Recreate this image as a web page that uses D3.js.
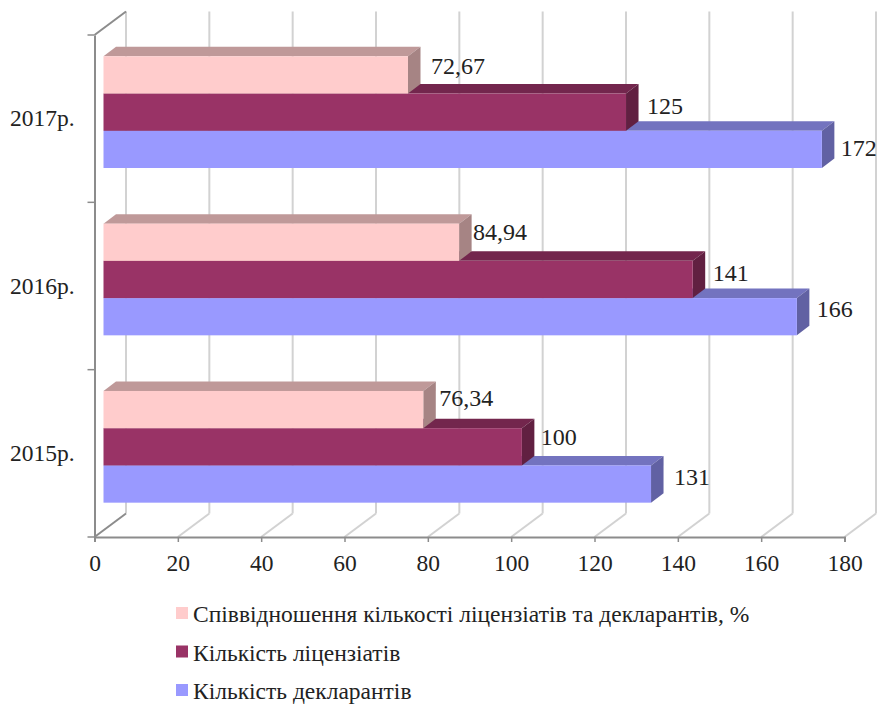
<!DOCTYPE html>
<html>
<head>
<meta charset="utf-8">
<title>Chart</title>
<script src="https://cdn.jsdelivr.net/npm/d3@7/dist/d3.min.js"></script>
<style>
  html, body { margin: 0; padding: 0; background: #fff; }
  svg { display: block; }
  text { font-family: "Liberation Serif", serif; fill: #222; }
</style>
</head>
<body>
<div class="chart"></div>
<script>
// data, top group first
var categories = ["2017р.", "2016р.", "2015р."];
var seriesNames = [
  "Співвідношення кількості ліцензіатів та декларантів, %",
  "Кількість ліцензіатів",
  "Кількість декларантів"
];
var ratioValues = [72.67, 84.94, 76.34];
var licenseeValues = [125, 141, 100];
var declarantValues = [172, 166, 131];
var ratioLabels = ["72,67", "84,94", "76,34"];
var licenseeLabels = ["125", "141", "100"];
var declarantLabels = ["172", "166", "131"];
var xTicks = [0, 20, 40, 60, 80, 100, 120, 140, 160, 180];

// hand placed label nudges, the original chart has them moved around a bit
var ratioNudge = [[4, -5], [-5, -7], [-3, -8]];
var licenseeNudge = [[2, -3], [1, -3], [0, -6]];
var declarantNudge = [[0, 2], [1, -4], [4, -4]];

var svgWidth = 878;
var svgHeight = 704;

var svg = d3.select(".chart")
  .append("svg")
  .attr("width", svgWidth)
  .attr("height", svgHeight);

var series = [
  { name: seriesNames[0], values: ratioValues, labels: ratioLabels, nudge: ratioNudge, front: "#ffcccc", top: "#bf9999", side: "#a68484" },
  { name: seriesNames[1], values: licenseeValues, labels: licenseeLabels, nudge: licenseeNudge, front: "#993366", top: "#73264d", side: "#612041" },
  { name: seriesNames[2], values: declarantValues, labels: declarantLabels, nudge: declarantNudge, front: "#9999ff", top: "#7373bf", side: "#6161a3" }
];

// scales
var xScale = d3.scaleLinear().domain([0, 180]).range([94.5, 844.5]);
var yScale = d3.scaleBand().domain(categories).range([35, 537]);
var barScale = d3.scaleBand().domain(d3.range(series.length)).range([21.3, 133]);

// depth of the fake 3d box
var wallDx = 31.5, wallDy = -23.5;
var barDx = 12.5, barDy = -9.5;
var barLeft = xScale(0) + 9;
var barShift = 10.7;
var floorY = yScale.range()[1];
var topY = yScale.range()[0];

// grid lines on the back wall and floor
var grid = svg.append("g");
grid.selectAll(".wall")
  .data(xTicks)
  .enter()
  .append("line")
  .attr("x1", d => xScale(d) + wallDx)
  .attr("x2", d => xScale(d) + wallDx)
  .attr("y1", topY + wallDy)
  .attr("y2", floorY + wallDy)
  .attr("stroke", "#d2d2d2")
  .attr("stroke-width", 2);
grid.selectAll(".floor")
  .data(xTicks)
  .enter()
  .append("line")
  .attr("x1", d => xScale(d))
  .attr("x2", d => xScale(d) + wallDx)
  .attr("y1", floorY)
  .attr("y2", floorY + wallDy)
  .attr("stroke", d => d == 0 ? "#8c8c8c" : "#d2d2d2")
  .attr("stroke-width", 2);

// top edge of the side wall
svg.append("line")
  .attr("x1", xScale(0))
  .attr("x2", xScale(0) + wallDx)
  .attr("y1", topY)
  .attr("y2", topY + wallDy)
  .attr("stroke", "#8c8c8c")
  .attr("stroke-width", 2);

// axes
var xAxis = d3.axisBottom(xScale).tickValues(xTicks).tickSize(5).tickPadding(12);
var yAxis = d3.axisLeft(yScale).tickSize(0).tickPadding(20);

var xGroup = svg.append("g")
  .attr("transform", `translate(0, ${floorY})`)
  .call(xAxis);
var yGroup = svg.append("g")
  .attr("transform", `translate(${xScale(0)}, 0)`)
  .call(yAxis);

// band axis puts ticks on the centres, the marks belong on the band edges
yGroup.selectAll(".edge")
  .data(d3.range(categories.length + 1))
  .enter()
  .append("line")
  .attr("x1", -7)
  .attr("x2", 0)
  .attr("y1", d => topY + d * yScale.step())
  .attr("y2", d => topY + d * yScale.step())
  .attr("stroke", "#8c8c8c")
  .attr("stroke-width", 1.5);

[xGroup, yGroup].forEach(function(g) {
  g.selectAll(".domain").attr("stroke", "#8c8c8c").attr("stroke-width", 2);
  g.selectAll(".tick line").attr("stroke", "#8c8c8c").attr("stroke-width", 1.5);
  g.selectAll("text")
    .style("font-family", '"Liberation Serif", serif')
    .style("font-size", "23.5px")
    .style("fill", "#222");
});

// bars, bottom one of each group first so the upper front covers the top face
categories.forEach(function(cat, c) {
  var group = svg.append("g");
  d3.range(series.length - 1, -1, -1).forEach(function(s) {
    var d = series[s];
    var y0 = yScale(cat) + barScale(s);
    var y1 = y0 + barScale.bandwidth();
    var x1 = xScale(d.values[c]) + barShift;

    group.append("path")
      .attr("d", d3.line()([[barLeft, y0], [barLeft + barDx, y0 + barDy], [x1 + barDx, y0 + barDy], [x1, y0]]))
      .attr("fill", d.top);
    group.append("path")
      .attr("d", d3.line()([[x1, y0], [x1 + barDx, y0 + barDy], [x1 + barDx, y1 + barDy], [x1, y1]]))
      .attr("fill", d.side);
    group.append("rect")
      .attr("x", barLeft)
      .attr("y", y0)
      .attr("width", x1 - barLeft)
      .attr("height", y1 - y0)
      .attr("fill", d.front);
  });
});

// value labels
categories.forEach(function(cat, c) {
  series.forEach(function(d, s) {
    svg.append("text")
      .attr("x", xScale(d.values[c]) + barShift + 19 + d.nudge[c][0])
      .attr("y", yScale(cat) + barScale(s) + barScale.bandwidth() / 2 - 1 + d.nudge[c][1])
      .attr("dominant-baseline", "middle")
      .attr("font-size", "24px")
      .text(d.labels[c]);
  });
});

// legend
var legendY = d3.scalePoint().domain(seriesNames).range([613, 690]);
var legend = svg.selectAll(".legend")
  .data(series)
  .enter()
  .append("g")
  .attr("transform", d => `translate(176, ${legendY(d.name)})`);
legend.append("rect")
  .attr("y", -6)
  .attr("width", 12)
  .attr("height", 12)
  .attr("fill", d => d.front);
legend.append("text")
  .attr("x", 17)
  .attr("y", 9)
  .attr("font-size", "23.5px")
  .text(d => d.name);
</script>
</body>
</html>
